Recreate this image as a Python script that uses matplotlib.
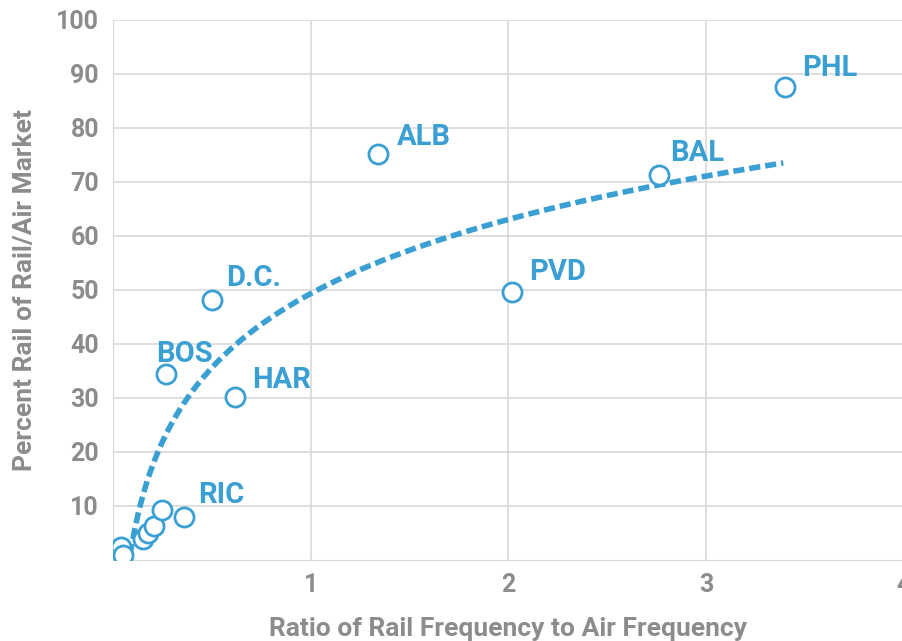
import numpy as np
import matplotlib
matplotlib.use("Agg")
import matplotlib.pyplot as plt
from matplotlib import font_manager

# city markets with labels
cities = ["PHL", "BAL", "ALB", "PVD", "D.C.", "BOS", "HAR", "RIC"]
city_ratio = [3.40, 2.76, 1.34, 2.02, 0.50, 0.27, 0.62, 0.36]
city_share = [87.5, 71.2, 75.2, 49.6, 48.1, 34.3, 30.2, 7.8]

# unlabeled small markets near the origin
small_ratio = [0.04, 0.05, 0.15, 0.18, 0.21, 0.25]
small_share = [2.4, 0.8, 3.8, 5.0, 6.2, 9.2]

label_offsets = {"PHL": (12, 4), "BAL": (8, 6), "ALB": (14, 2), "PVD": (12, 4),
                 "D.C.": (10, 6), "BOS": (-7, 5), "HAR": (12, 2), "RIC": (10, 6)}

blue = "#3a9fd3"
gray = "#8c8c8c"

names = [f.name for f in font_manager.fontManager.ttflist]
fam = "Liberation Sans Narrow" if "Liberation Sans Narrow" in names else "Roboto"
plt.rcParams["font.family"] = [fam, "DejaVu Sans"]
plt.rcParams["font.weight"] = "bold"

fig = plt.figure(figsize=(9.03, 6.41), dpi=100)
ax = fig.add_axes([0.125, 0.127, 0.876, 0.842])

all_x = np.array(city_ratio + small_ratio)
all_y = np.array(city_share + small_share)

# logarithmic trendline fitted to the points
a, b = np.polyfit(np.log(all_x), all_y, 1)
tx = np.linspace(0.075, 3.39, 200)
ax.plot(tx, a * np.log(tx) + b, color=blue, lw=4, ls=(0, (2.0, 0.9)), zorder=2)

ax.scatter(all_x, all_y, s=190, facecolors="white", edgecolors=blue, linewidths=2, zorder=3)

for name, x, y in zip(cities, city_ratio, city_share):
    dx, dy = label_offsets[name]
    ax.annotate(name, (x, y), xytext=(dx, dy), textcoords="offset points",
                color=blue, fontsize=21, fontweight="bold", va="bottom", ha="left")

ax.set_xlim(0, 4)
ax.set_ylim(0, 100)
ax.set_xticks([1, 2, 3, 4])
ax.set_yticks(range(10, 101, 10))
ax.grid(True, color="#d9d9d9", lw=1.2)
ax.set_axisbelow(True)
for side in ["top", "right"]:
    ax.spines[side].set_visible(False)
ax.spines["left"].set_color("#d9d9d9")
ax.spines["bottom"].set_color("#d9d9d9")
ax.tick_params(length=0, colors=gray, labelsize=18, pad=10)
ax.set_xlabel("Ratio of Rail Frequency to Air Frequency", color=gray, fontsize=19,
              fontweight="bold", labelpad=14)
ax.set_ylabel("Percent Rail of Rail/Air Market", color=gray, fontsize=19,
              fontweight="bold", labelpad=14)

fig.savefig("out.png", dpi=100)
